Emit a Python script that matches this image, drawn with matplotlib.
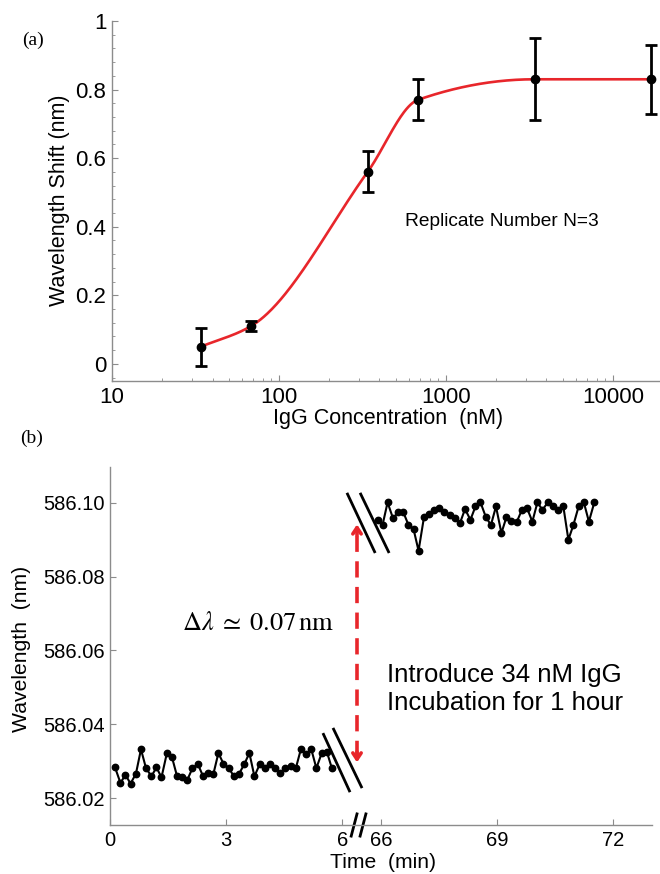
import numpy as np
import matplotlib
matplotlib.use("Agg")
import matplotlib.pyplot as plt
from matplotlib.ticker import MultipleLocator, LogLocator, NullFormatter
import matplotlib.transforms as mtransforms

plt.rcParams['font.family'] = ['Liberation Sans', 'DejaVu Sans']
plt.rcParams['mathtext.fontset'] = 'stix'

# panel (a): binding curve
conc_nM = [34, 68, 340, 680, 3400, 17000]
shift_nm = [0.05, 0.11, 0.56, 0.77, 0.83, 0.83]
shift_err = [0.055, 0.015, 0.06, 0.06, 0.12, 0.10]
a_yticks = [0, 0.2, 0.4, 0.6, 0.8, 1.0]
a_yticklabels = ['0', '0.2', '0.4', '0.6', '0.8', '1']
a_xticks = [10, 100, 1000, 10000]
a_xticklabels = ['10', '100', '1000', '10000']

# panel (b): wavelength vs time, before and after incubation
t_before = [0.13, 0.27, 0.40, 0.53, 0.67, 0.80, 0.93, 1.07, 1.20, 1.33, 1.47,
            1.60, 1.73, 1.87, 2.00, 2.13, 2.27, 2.40, 2.53, 2.67, 2.80, 2.93,
            3.07, 3.20, 3.33, 3.47, 3.60, 3.73, 3.87, 4.00, 4.13, 4.27, 4.40,
            4.53, 4.67, 4.80, 4.93, 5.07, 5.20, 5.33, 5.47, 5.60, 5.73]
wl_before = [586.0283, 586.0241, 586.0263, 586.0239, 586.0266, 586.0332,
             586.0281, 586.0259, 586.0283, 586.0256, 586.0322, 586.0311,
             586.0260, 586.0256, 586.0250, 586.0281, 586.0292, 586.0260,
             586.0269, 586.0265, 586.0322, 586.0293, 586.0281, 586.0259,
             586.0265, 586.0292, 586.0322, 586.0259, 586.0292, 586.0281,
             586.0292, 586.0281, 586.0269, 586.0281, 586.0286, 586.0281,
             586.0332, 586.0320, 586.0332, 586.0281, 586.0322, 586.0326,
             586.0281]
t_after = [65.91, 66.04, 66.17, 66.31, 66.44, 66.57, 66.71, 66.84, 66.97,
           67.11, 67.24, 67.37, 67.51, 67.64, 67.77, 67.91, 68.04, 68.17,
           68.31, 68.44, 68.57, 68.71, 68.84, 68.97, 69.11, 69.24, 69.37,
           69.51, 69.64, 69.77, 69.91, 70.04, 70.17, 70.31, 70.44, 70.57,
           70.71, 70.84, 70.97, 71.11, 71.24, 71.37, 71.51]
wl_after = [586.0954, 586.0940, 586.1001, 586.0958, 586.0974, 586.0976,
            586.0940, 586.0929, 586.0870, 586.0961, 586.0970, 586.0981,
            586.0987, 586.0976, 586.0967, 586.0958, 586.0945, 586.0983,
            586.0954, 586.0990, 586.1001, 586.0961, 586.0940, 586.0990,
            586.0918, 586.0961, 586.0952, 586.0949, 586.0981, 586.0986,
            586.0949, 586.1001, 586.0981, 586.1001, 586.0992, 586.0981,
            586.0990, 586.0900, 586.0940, 586.0992, 586.1001, 586.0949,
            586.1001]
b_xticks = [0, 3, 6, 66, 69, 72]
b_yticks = [586.02, 586.04, 586.06, 586.08, 586.10]
GAP = 59  # minutes cut out of the time axis

RED = '#e8262b'
GREY = '#8c8c8c'


def axis_time(t):
    t = np.asarray(t, dtype=float)
    return np.where(t > 30, t - GAP, t)


def pchip(xk, yk, xs):
    """monotone cubic through the points (Fritsch-Carlson)"""
    xk = np.asarray(xk, float)
    yk = np.asarray(yk, float)
    h = np.diff(xk)
    delta = np.diff(yk) / h
    d = np.zeros_like(yk)
    d[0], d[-1] = delta[0], delta[-1]
    for k in range(1, len(xk) - 1):
        if delta[k - 1] * delta[k] > 0:
            w1 = 2 * h[k] + h[k - 1]
            w2 = h[k] + 2 * h[k - 1]
            d[k] = (w1 + w2) / (w1 / delta[k - 1] + w2 / delta[k])
    idx = np.clip(np.searchsorted(xk, xs) - 1, 0, len(xk) - 2)
    s = (xs - xk[idx]) / h[idx]
    h00 = 2 * s**3 - 3 * s**2 + 1
    h10 = s**3 - 2 * s**2 + s
    h01 = -2 * s**3 + 3 * s**2
    h11 = s**3 - s**2
    return (h00 * yk[idx] + h10 * h[idx] * d[idx]
            + h01 * yk[idx + 1] + h11 * h[idx] * d[idx + 1])


def style_axes(ax, size):
    for side in ['top', 'right']:
        ax.spines[side].set_visible(False)
    for side in ['left', 'bottom']:
        ax.spines[side].set_color(GREY)
        ax.spines[side].set_linewidth(1.0)
    ax.tick_params(which='both', direction='in', color=GREY, labelsize=size, pad=4)
    ax.tick_params(which='major', length=4)
    ax.tick_params(which='minor', length=2.5)


fig = plt.figure(figsize=(6.6, 8.74), dpi=100)

# ---- (a)
ax1 = fig.add_axes([112 / 660, 1 - 381 / 874, 547 / 660, 360 / 874])
ax1.set_xscale('log')
ax1.set_xlim(10, 18900)
ax1.set_ylim(-0.05, 1.0)

logc = np.log10(conc_nM)
xs = np.linspace(logc[0], logc[-1], 400)
ax1.plot(10**xs, pchip(logc, shift_nm, xs), color=RED, lw=1.9, zorder=2)
ax1.errorbar(conc_nM, shift_nm, yerr=shift_err, fmt='o', color='black',
             ms=6, elinewidth=2, capsize=4.5, capthick=2, zorder=3)

ax1.set_yticks(a_yticks)
ax1.set_yticklabels(a_yticklabels)
ax1.yaxis.set_minor_locator(MultipleLocator(0.04))
ax1.set_xticks(a_xticks)
ax1.set_xticklabels(a_xticklabels)
ax1.xaxis.set_minor_locator(LogLocator(base=10, subs=np.arange(2, 10)))
ax1.xaxis.set_minor_formatter(NullFormatter())
style_axes(ax1, 16)
ax1.text(570, 0.414, 'Replicate Number N=3', fontsize=13.8, va='center', ha='left')

fig.text(60 / 660, 1 - 200 / 874, 'Wavelength Shift (nm)', rotation=90,
         fontsize=15.5, ha='center', va='center')
fig.text(388 / 660, 1 - 419 / 874, 'IgG Concentration  (nM)',
         fontsize=15.5, ha='center', va='center')
fig.text(22 / 660, 1 - 40 / 874, '(a)', family=['Liberation Serif', 'DejaVu Serif'],
         fontsize=14, ha='left', va='center')

# ---- (b)
ax2 = fig.add_axes([110 / 660, 1 - 825 / 874, 542 / 660, 358 / 874])
ax2.set_xlim(0, 14)
ax2.set_ylim(586.0127, 586.1097)

ax2.plot(axis_time(t_before), wl_before, '-o', color='black', lw=1.5, ms=4.6)
ax2.plot(axis_time(t_after), wl_after, '-o', color='black', lw=1.5, ms=4.6)

ax2.set_xticks(axis_time(b_xticks))
ax2.set_xticklabels([str(t) for t in b_xticks])
ax2.set_yticks(b_yticks)
ax2.set_yticklabels(['%.2f' % v for v in b_yticks])
style_axes(ax2, 14.5)

# break marks across the data traces
for (x0, y0), (x1, y1) in [((5.50, 586.0376), (6.20, 586.0216)),
                           ((5.76, 586.0390), (6.51, 586.0227)),
                           ((6.12, 586.1027), (6.85, 586.0864)),
                           ((6.46, 586.1027), (7.21, 586.0864))]:
    ax2.plot([x0, x1], [y0, y1], color='black', lw=2, solid_capstyle='butt')

# break marks on the time axis
trans = mtransforms.blended_transform_factory(ax2.transData, ax2.transAxes)
for xm in [6.23, 6.46]:
    ax2.plot([xm, xm + 0.15], [-0.031, 0.031], color='black', lw=2,
             transform=trans, clip_on=False)

# shift arrow
x_arr = 6.38
ax2.plot([x_arr, x_arr], [586.0310, 586.0925], color=RED, lw=2.6,
         linestyle=(0, (4.5, 2.6)))
ax2.annotate('', xy=(x_arr, 586.0949), xytext=(x_arr, 586.0905),
             arrowprops=dict(arrowstyle='->,head_length=0.45,head_width=0.3',
                             color=RED, lw=2.6))
ax2.annotate('', xy=(x_arr, 586.0289), xytext=(x_arr, 586.0333),
             arrowprops=dict(arrowstyle='->,head_length=0.45,head_width=0.3',
                             color=RED, lw=2.6))

ax2.text(3.82, 586.0675, r'$\Delta\lambda\;\simeq\;0.07\,\mathrm{nm}$',
         fontsize=19, ha='center', va='center')
ax2.text(7.16, 586.0496, 'Introduce 34 nM IgG\nIncubation for 1 hour',
         fontsize=18.5, ha='left', va='center', linespacing=1.2)

fig.text(22 / 660, 1 - 649 / 874, 'Wavelength  (nm)', rotation=90,
         fontsize=15.2, ha='center', va='center')
fig.text(383 / 660, 1 - 863 / 874, 'Time  (min)', fontsize=15.2,
         ha='center', va='center')
fig.text(20 / 660, 1 - 438 / 874, '(b)', family=['Liberation Serif', 'DejaVu Serif'],
         fontsize=14, ha='left', va='center')

fig.savefig('out.png', dpi=100)
